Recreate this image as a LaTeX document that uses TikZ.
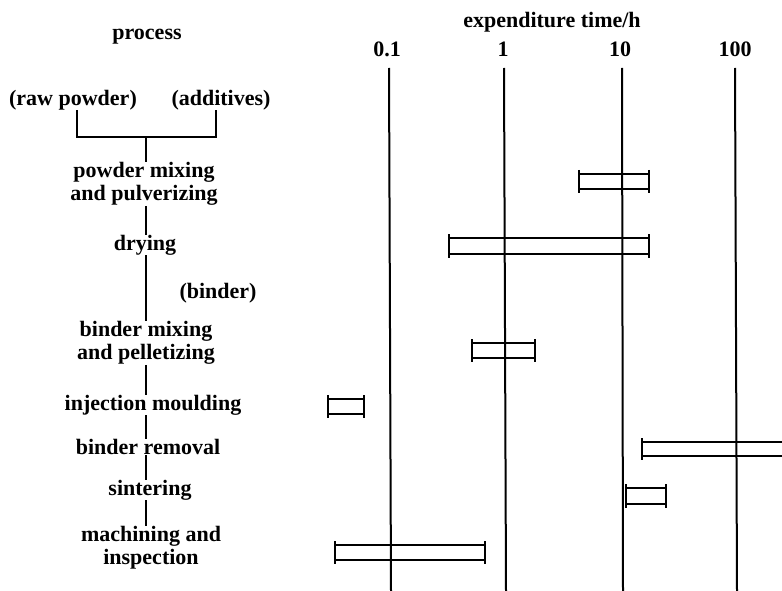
\documentclass[tikz,border=0pt]{standalone}
\usepackage{fontspec}
\setmainfont{Liberation Serif}
\begin{document}
\begin{tikzpicture}[x=1pt,y=-1pt,
  lbl/.style={font=\fontsize{22}{23}\selectfont\bfseries, inner sep=0pt, align=center},
  flow/.style={line width=1.8pt},
  gridline/.style={line width=2pt},
  barline/.style={line width=1.5pt},
  capline/.style={line width=1.8pt}]
\clip (0,0) rectangle (782,591);
\fill[white] (0,0) rectangle (782,591);
\newcommand\timebar[4]{%
  \draw[barline] (#1,#3) -- (#2,#3) (#1,#4) -- (#2,#4);
  \draw[capline] (#1,#3-4) -- (#1,#4+4) (#2,#3-4) -- (#2,#4+4);}
% left column
\node[lbl] (proc) at (147,37) {process};
\node[lbl] (raw) at (73,100) {(raw powder)};
\node[lbl] (add) at (221,100) {(additives)};
\node[lbl] (pmix) at (144,184) {powder mixing\\and pulverizing};
\node[lbl] (dry) at (145,245) {drying};
\node[lbl] (binder) at (218,293) {(binder)};
\node[lbl] (bmix) at (146,343) {binder mixing\\and pelletizing};
\node[lbl] (inj) at (153,405) {injection moulding};
\node[lbl] (brem) at (148,447) {binder removal};
\node[lbl] (sint) at (150,490) {sintering};
\node[lbl] (mach) at (151,548) {machining and\\inspection};
\coordinate (s) at (146,0);
\coordinate (bl) at (77,0);
\coordinate (br) at (216,0);
\coordinate (j) at (146,137);
\draw[flow] (raw.south -| bl) |- (j) -| (add.south -| br);
\draw[flow] (j) -- (pmix.north -| s);
\draw[flow] (pmix.south -| s) -- (dry.north -| s);
\draw[flow] (dry.south -| s) -- (bmix.north -| s);
\draw[flow] (bmix.south -| s) -- (inj.north -| s);
\draw[flow] (inj.south -| s) -- (brem.north -| s);
\draw[flow] (brem.south -| s) -- (sint.north -| s);
\draw[flow] (sint.south -| s) -- (mach.north -| s);
% right axis
\node[lbl] (ax) at (552,22) {expenditure time/h};
\node[lbl] (t0) at (387,49) {0.1};
\node[lbl] (t1) at (503,49) {1};
\node[lbl] (t2) at (620,49) {10};
\node[lbl] (t3) at (735,49) {100};
\draw[gridline] (389,68) -- (391,591);
\draw[gridline] (504,68) -- (506,591);
\draw[gridline] (622,68) -- (623,591);
\draw[gridline] (735,68) -- (737,591);
% bars
\timebar{579}{649}{174}{189}
\timebar{449}{649}{238}{254}
\timebar{472}{535}{343}{358}
\timebar{328}{364}{399}{414}
\timebar{642}{800}{442}{456}
\timebar{626}{666}{488}{504}
\timebar{335}{485}{545}{560}
\end{tikzpicture}
\end{document}
